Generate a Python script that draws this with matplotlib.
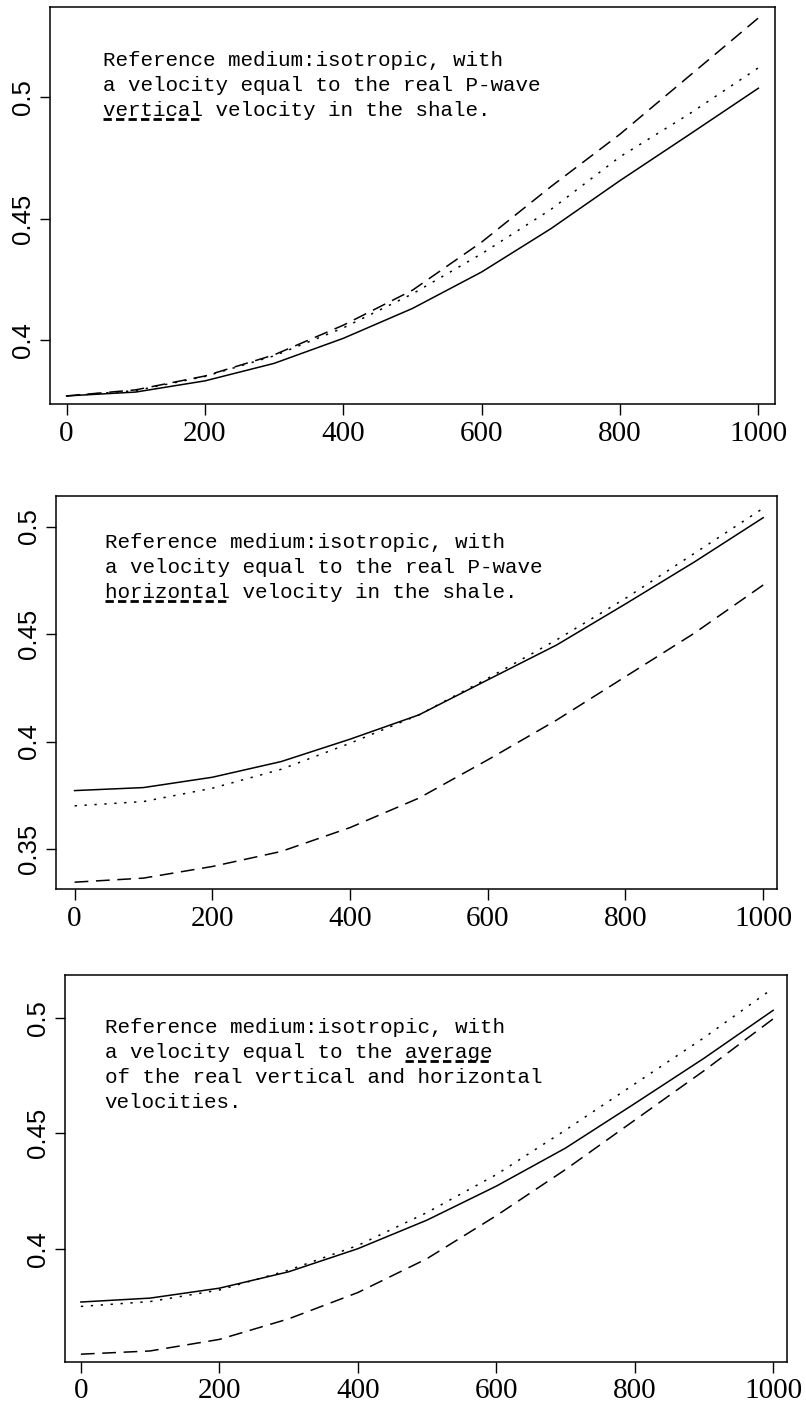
import numpy as np
import matplotlib.pyplot as plt
from matplotlib.lines import Line2D

depth = [0, 100, 200, 300, 400, 500, 600, 700, 800, 900, 1000]

# panel 1: reference = vertical velocity
p1_solid = [0.377, 0.3786, 0.3832, 0.3904, 0.4007, 0.413, 0.428, 0.4458, 0.4656, 0.4845, 0.5036]
p1_dotted = [0.377, 0.3792, 0.385, 0.3935, 0.405, 0.419, 0.4355, 0.4537, 0.4754, 0.493, 0.512]
p1_dashed = [0.377, 0.3795, 0.3852, 0.3939, 0.4061, 0.4205, 0.4403, 0.4631, 0.4847, 0.5086, 0.5325]

# panel 2: reference = horizontal velocity
p2_solid = [0.3772, 0.3786, 0.3834, 0.3907, 0.4011, 0.4124, 0.4287, 0.4449, 0.464, 0.4835, 0.5041]
p2_dotted = [0.3701, 0.3721, 0.3783, 0.3871, 0.3992, 0.4124, 0.4294, 0.4473, 0.4666, 0.4875, 0.5085]
p2_dashed = [0.3346, 0.3365, 0.3419, 0.3489, 0.36, 0.3737, 0.3915, 0.41, 0.4302, 0.4504, 0.4728]

# panel 3: reference = average velocity
p3_solid = [0.3769, 0.3786, 0.3829, 0.39, 0.4, 0.4124, 0.4271, 0.4436, 0.4629, 0.4825, 0.5033]
p3_dotted = [0.375, 0.3771, 0.3821, 0.3907, 0.4014, 0.4157, 0.4321, 0.4514, 0.4714, 0.4914, 0.5129]
p3_dashed = [0.3543, 0.3557, 0.3607, 0.3696, 0.381, 0.3957, 0.4143, 0.4343, 0.4557, 0.4771, 0.4996]

xticks = [0, 200, 400, 600, 800, 1000]
yticks = [[0.4, 0.45, 0.5], [0.35, 0.4, 0.45, 0.5], [0.4, 0.45, 0.5]]
ytick_labels = [["0.4", "0.45", "0.5"], ["0.35", "0.4", "0.45", "0.5"], ["0.4", "0.45", "0.5"]]

notes = [
    ["Reference medium:isotropic, with",
     "a velocity equal to the real P-wave",
     "vertical velocity in the shale."],
    ["Reference medium:isotropic, with",
     "a velocity equal to the real P-wave",
     "horizontal velocity in the shale."],
    ["Reference medium:isotropic, with",
     "a velocity equal to the average",
     "of the real vertical and horizontal",
     "velocities."],
]
underline = [(2, "vertical"), (2, "horizontal"), (1, "average")]

panels = [
    (p1_solid, p1_dotted, p1_dashed),
    (p2_solid, p2_dotted, p2_dashed),
    (p3_solid, p3_dotted, p3_dashed),
]

fig = plt.figure(figsize=(8.06, 14.09), dpi=100)
rects = [
    [0.062, 0.7133, 0.8995, 0.2817],
    [0.0695, 0.369, 0.8945, 0.279],
    [0.0806, 0.0335, 0.8958, 0.2745],
]
ylims = [(0.3737, 0.537), (0.3314, 0.5142), (0.351, 0.5186)]
xlims = [(-24, 1024), (-27, 1020), (-23, 1020)]
text_pos = [(0.073, 0.889), (0.068, 0.906), (0.055, 0.89)]

fig.canvas.draw()
renderer = fig.canvas.get_renderer()

for i, (solid, dotted, dashed) in enumerate(panels):
    ax = fig.add_axes(rects[i])
    ax.plot(depth, solid, color="black", lw=1.1, ls="-")
    ax.plot(depth, dotted, color="black", lw=1.1, ls=(0, (1.5, 5)))
    ax.plot(depth, dashed, color="black", lw=1.1, ls=(0, (9, 5)))
    ax.set_xlim(*xlims[i])
    ax.set_ylim(*ylims[i])
    ax.set_xticks(xticks)
    ax.set_xticklabels([str(t) for t in xticks], fontsize=21, family="Liberation Serif")
    ax.set_yticks(yticks[i])
    ax.set_yticklabels(ytick_labels[i], rotation=90, va="center", fontsize=18.5,
                       family="Liberation Sans")
    ax.tick_params(axis="x", direction="out", length=8, width=1, pad=4)
    ax.tick_params(axis="y", direction="out", length=7, width=1, pad=4)
    for sp in ax.spines.values():
        sp.set_linewidth(1.1)

    # text block, one line at a time
    ah = rects[i][3] * fig.get_figheight() * fig.dpi
    step = 25.0 / ah
    tx, ty = text_pos[i]
    texts = []
    for j, line in enumerate(notes[i]):
        t = ax.text(tx, ty - j * step, line, transform=ax.transAxes,
                    family="Liberation Mono", fontsize=15, va="top", ha="left")
        texts.append(t)

    # dashed underline below the emphasized word
    li, word = underline[i]
    line = notes[i][li]
    bb = texts[li].get_window_extent(renderer=renderer)
    cw = bb.width / len(line)
    col = line.index(word)
    x0 = bb.x0 + col * cw
    x1 = x0 + len(word) * cw
    yy = bb.y0 + 1
    inv = fig.transFigure.inverted()
    (fx0, fy), (fx1, _) = inv.transform([(x0, yy), (x1, yy)])
    fig.add_artist(Line2D([fx0, fx1], [fy, fy], transform=fig.transFigure,
                          color="black", lw=2, ls=(0, (3, 1.5))))

fig.savefig("out.png", dpi=100)
